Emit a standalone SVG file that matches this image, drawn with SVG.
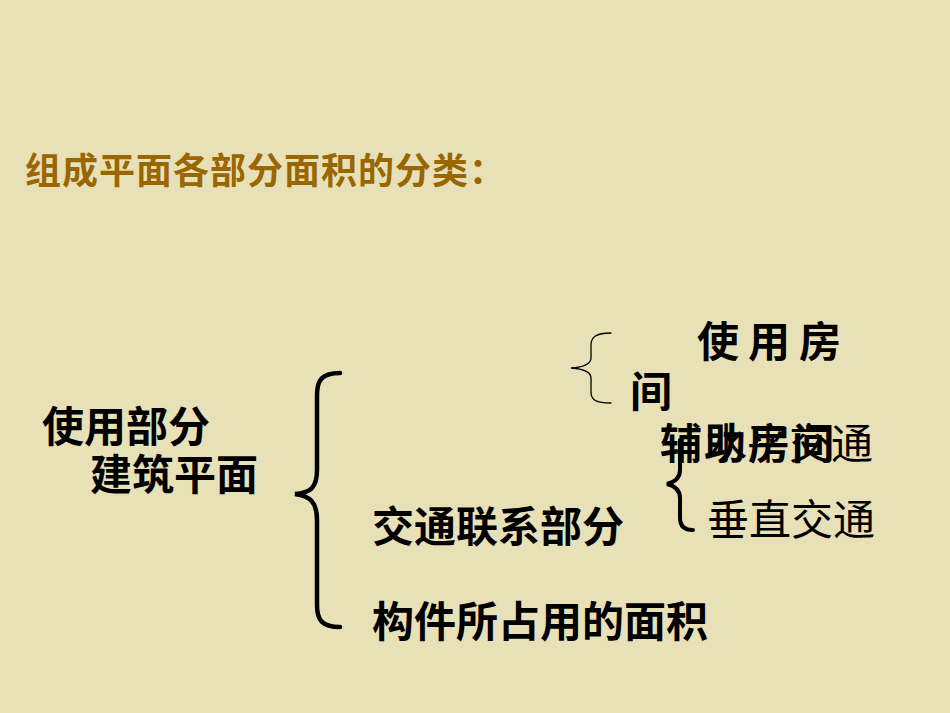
<svg xmlns="http://www.w3.org/2000/svg" width="950" height="713" viewBox="0 0 950 713">
<style>
.t{font-family:"Liberation Sans","Noto Sans CJK SC",sans-serif;font-size:42px;fill:#000;font-weight:bold}
.r{font-family:"Liberation Sans","Noto Sans CJK SC",sans-serif;font-size:42px;fill:#000;font-weight:normal}
.title{font-family:"Liberation Sans","Noto Sans CJK SC",sans-serif;font-size:36px;fill:#996600;font-weight:bold;letter-spacing:1px}
.b{fill:none;stroke:#000;stroke-linecap:round}
</style>
<rect width="950" height="713" fill="#E8E1B8"/>
<g id="title"><text class="title" x="25" y="184">组成平面各部分面积的分类：</text></g>
<g id="root">
<text class="t" x="42" y="442">使用部分</text>
<text class="t" x="90" y="490">建筑平面</text>
</g>
<g id="n-jiaotong"><text class="t" x="372" y="542">交通联系部分</text></g>
<g id="n-goujian"><text class="t" x="372" y="637">构件所占用的面积</text></g>
<g id="n-shiyong">
<text class="t" x="697" y="357" letter-spacing="9">使用房</text>
<text class="t" x="630" y="407">间</text>
</g>
<g id="n-shuiping"><text class="r" x="705" y="459">水平交通</text></g>
<g id="n-fuzhu"><text class="t" x="660" y="459" letter-spacing="2">辅助房间</text></g>
<g id="n-chuizhi"><text class="r" x="707" y="535">垂直交通</text></g>
<g id="connectors">
<path class="b" stroke-width="4.5" d="M340,373 C322,373 317,380 317,395 L317,470 C317,488 310,493 295,494 C310,496 317,502 317,520 L317,605 C317,620 322,627 340,627"/>
<path class="b" stroke-width="1.3" d="M611,333 C596,333 591,337 591,345 L591,358 C591,364 585,367 571,368 C585,369 591,372 591,378 L591,392 C591,400 596,403 611,403"/>
<path class="b" stroke-width="4" d="M680,440 L680,470 C680,478 675,482 667,484 C675,486 680,490 680,498 L680,518 C680,527 685,530 693,530"/>
</g>
</svg>
